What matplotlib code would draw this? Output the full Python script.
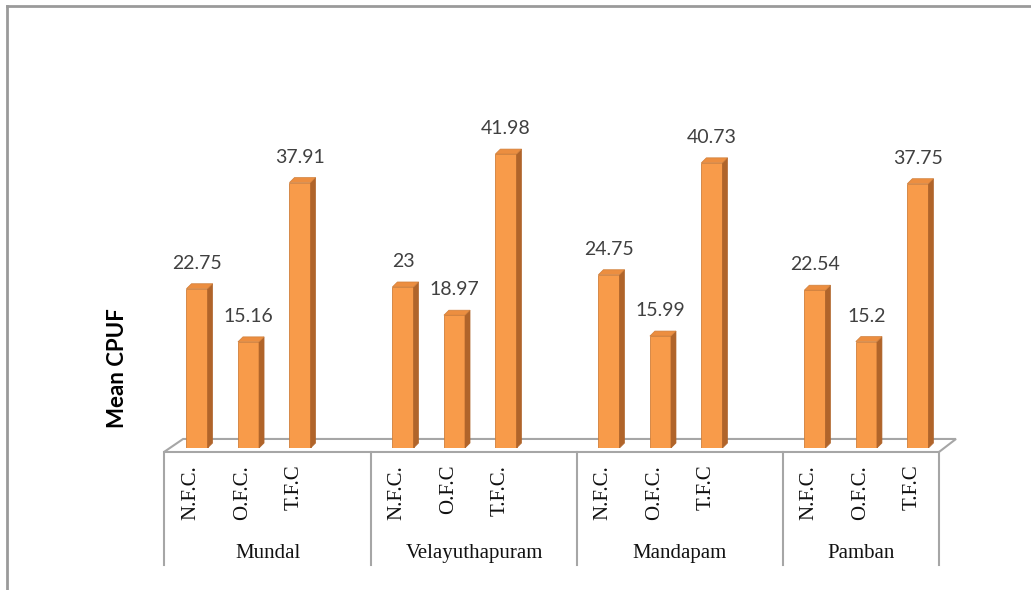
import numpy as np
import matplotlib
matplotlib.use('Agg')
import matplotlib.pyplot as plt
from matplotlib.patches import Polygon
from matplotlib.lines import Line2D

# data
sites = ['Mundal', 'Velayuthapuram', 'Mandapam', 'Pamban']
gear_labels = [['N.F.C.', 'O.F.C.', 'T.F.C'],
               ['N.F.C.', 'O.F.C', 'T.F.C.'],
               ['N.F.C.', 'O.F.C.', 'T.F.C'],
               ['N.F.C.', 'O.F.C.', 'T.F.C']]
cpuf = [[22.75, 15.16, 37.91],
        [23, 18.97, 41.98],
        [24.75, 15.99, 40.73],
        [22.54, 15.2, 37.75]]
value_text = [['22.75', '15.16', '37.91'],
              ['23', '18.97', '41.98'],
              ['24.75', '15.99', '40.73'],
              ['22.54', '15.2', '37.75']]

front = '#F89B4A'
side = '#B0642A'
top = '#EC8E40'
grey = '#A6A6A6'

fig = plt.figure(figsize=(10.31, 5.90), dpi=100)
ax = fig.add_axes([164 / 1031, 142 / 590, 775 / 1031, 348 / 590])
ax.set_xlim(-0.641, 14.41)
ax.set_ylim(0, 49.7)
ax.axis('off')

w = 0.41     # bar width
dx = 0.097   # depth offset in x
dy = 0.71    # depth offset in y

# floor
fl = [(-0.641, -0.57), (14.41, -0.57), (14.74, 1.29), (-0.27, 1.29)]
ax.add_patch(Polygon(fl, closed=True, facecolor='white', edgecolor=grey,
                     lw=1.5, clip_on=False, zorder=1))

# group separators under the floor
for g in range(len(sites) + 1):
    xs = min(4 * g - 0.62, 14.41) if g > 0 else -0.641
    ax.plot([xs, xs], [-0.57, -16.7], color=grey, lw=1.5, clip_on=False, zorder=1)

for g, site in enumerate(sites):
    for j, v in enumerate(cpuf[g]):
        x = 4 * g + j
        ax.bar(x, v, width=w, color=front, edgecolor='#D07F3A', lw=0.6, zorder=3)
        r = x + w / 2
        l = x - w / 2
        ax.add_patch(Polygon([(r, 0), (r + dx, dy), (r + dx, v + dy), (r, v)],
                             closed=True, facecolor=side, edgecolor=side, lw=0.5, zorder=3))
        ax.add_patch(Polygon([(l, v), (r, v), (r + dx, v + dy), (l + dx, v + dy)],
                             closed=True, facecolor=top, edgecolor='#D07F3A', lw=0.5, zorder=3))
        ax.text(x, v + 3.6, value_text[g][j], ha='center', va='center',
                fontsize=14, family='Lato', color='#404040', zorder=4)
        ax.text(x - 0.12, -2.4, gear_labels[g][j], rotation=90, ha='center', va='top',
                fontsize=15, family='Liberation Serif', color='#111111', clip_on=False)
    left = 4 * g - 0.62 if g > 0 else -0.641
    right = min(4 * g + 3.38, 14.41)
    ax.text((left + right) / 2, -15, site, ha='center', va='center',
            fontsize=15, family='Liberation Serif', color='#111111', clip_on=False)

fig.text(117 / 1031, 1 - 368 / 590, 'Mean CPUF', rotation=90, ha='center', va='center',
         fontsize=16, family='Lato', fontweight='bold', color='black')

# outer frame (left and top only)
fig.add_artist(Line2D([7 / 1031, 7 / 1031], [0, 1 - 6 / 590], color='#9A9A9A', lw=2))
fig.add_artist(Line2D([7 / 1031, 1], [1 - 6 / 590, 1 - 6 / 590], color='#9A9A9A', lw=2))

fig.savefig('out.png', dpi=100)
